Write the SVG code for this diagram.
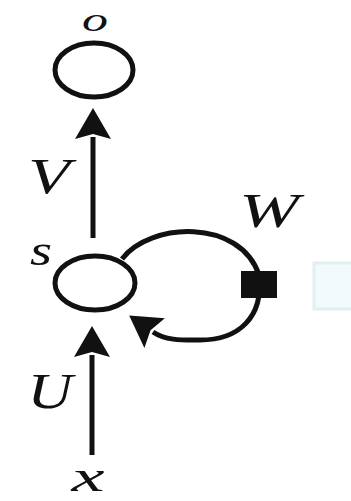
<svg xmlns="http://www.w3.org/2000/svg" width="351" height="501" viewBox="0 0 351 501">
<style>
.node{fill:none;stroke:#111;stroke-width:5}
.edge{fill:none;stroke:#111;stroke-width:5}
.lbl{font-family:"Liberation Serif","Times New Roman",serif;font-style:italic;fill:#111;text-anchor:middle}
</style>
<defs>
<marker id="arr" markerUnits="userSpaceOnUse" markerWidth="40" markerHeight="40" viewBox="-2 -20 36 40" refX="2" refY="0" orient="auto">
<path d="M0,-18 L31,0 L0,18 L5,0 z" fill="#111"/>
</marker>
</defs>
<rect width="351" height="501" fill="#fff"/>
<rect x="314" y="263" width="40" height="46" fill="#f3fafb" stroke="#e0f0f2" stroke-width="3"/>
<g id="connectors">
<path class="edge" d="M93,238 L93,137" marker-end="url(#arr)"/>
<path class="edge" d="M92,455 L92,355" marker-end="url(#arr)"/>
<path class="edge" d="M122,259 C150,222 240,218 259,275 C264,318 238,340 200,340 C184,340 166,341 153,332" marker-end="url(#arr)"/>
<rect x="241" y="271" width="36" height="27" fill="#111"/>
</g>
<g id="node-o">
<ellipse class="node" cx="94" cy="70" rx="39" ry="27"/>
<text class="lbl" x="95" y="31" font-size="34" textLength="26" lengthAdjust="spacingAndGlyphs">o</text>
</g>
<g id="node-s">
<ellipse class="node" cx="95" cy="283" rx="40" ry="27"/>
<text class="lbl" x="41" y="265" font-size="44" textLength="22" lengthAdjust="spacingAndGlyphs">s</text>
</g>
<g id="node-x">
<text class="lbl" x="88" y="491" font-size="44" textLength="33" lengthAdjust="spacingAndGlyphs">x</text>
</g>
<g id="labels">
<text class="lbl" x="49" y="193" font-size="50" textLength="42" lengthAdjust="spacingAndGlyphs">V</text>
<text class="lbl" x="269" y="227" font-size="48" textLength="60" lengthAdjust="spacingAndGlyphs">W</text>
<text class="lbl" x="50" y="408" font-size="50" textLength="45" lengthAdjust="spacingAndGlyphs">U</text>
</g>
</svg>
